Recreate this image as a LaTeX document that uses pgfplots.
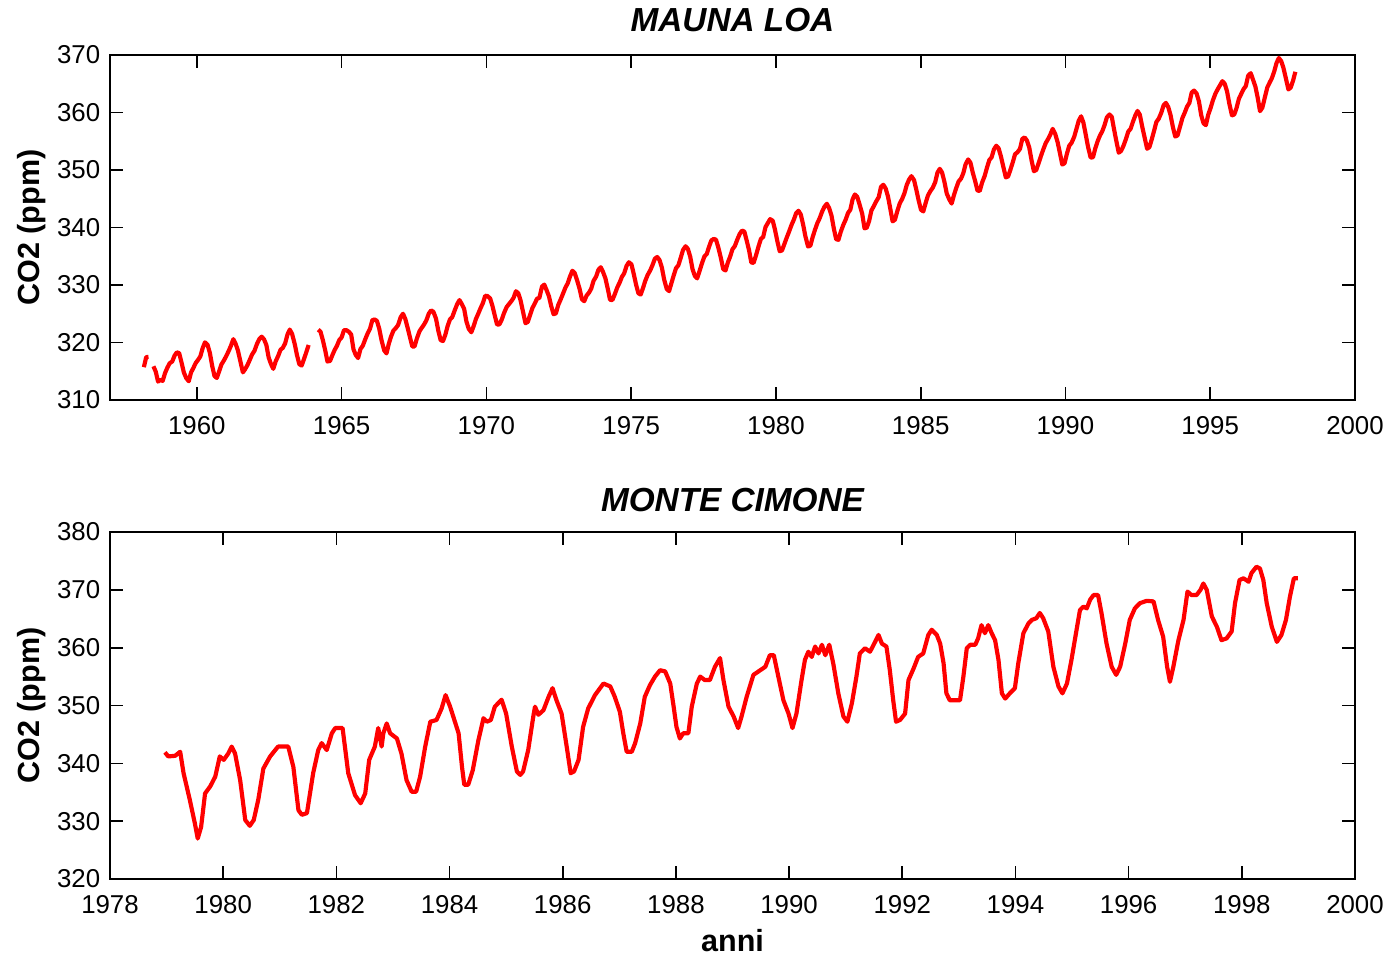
\documentclass[border=0pt]{standalone}
\usepackage{fontspec}
\setmainfont{Liberation Sans}
\usepackage{pgfplots}
\pgfplotsset{compat=1.18}
\begin{document}
\begin{tikzpicture}
\useasboundingbox (0,0) rectangle (498.24pt,343.44pt);
\pgfplotsset{
 co2/.style={
  scale only axis, width=448.2pt, anchor=south west,
  tick align=inside, tick pos=both, major tick length=4.7pt,
  axis line style={line width=0.7pt},
  every tick/.style={black,line width=0.6pt},
  tick label style={font=\fontsize{9.3}{10}\selectfont},
  /pgf/number format/assume math mode=true,
  /pgf/number format/1000 sep={},
  xticklabel style={yshift=-2.5pt},
  ylabel={CO2 (ppm)},
  ylabel style={at={(axis description cs:0,0.5)},anchor=center,yshift=28.4pt,font=\fontsize{11}{13}\selectfont\bfseries},
  title style={font=\fontsize{12}{14}\selectfont\bfseries\itshape, at={(0.5,1)}, anchor=base},
  unbounded coords=jump,
 },
 co2line/.style={red, line width=1.5pt, line join=round, mark=none},
}
\begin{axis}[co2, at={(39.6pt,199.44pt)}, height=124.2pt,
  xmin=1957, xmax=2000, ymin=310, ymax=370,
  xtick={1960,1965,...,2000}, ytick={310,320,...,370},
  title={MAUNA LOA}, title style={yshift=2.6pt}]
\addplot[co2line] coordinates {
(1958.17,315.71)(1958.25,317.45)(1958.33,317.50)(1958.41,nan)(1958.50,315.86)(1958.58,314.93)(1958.66,313.20)(1958.74,313.50)(1958.82,313.33)(1958.90,314.67)
(1958.98,315.62)(1959.06,316.38)(1959.15,316.71)(1959.23,317.72)(1959.31,318.29)(1959.39,318.15)(1959.47,316.54)(1959.55,314.80)(1959.63,313.84)(1959.72,313.26)(1959.80,314.80)(1959.88,315.58)
(1959.96,316.43)(1960.04,316.97)(1960.12,317.58)(1960.20,319.02)(1960.28,320.03)(1960.37,319.59)(1960.45,318.18)(1960.53,315.91)(1960.61,314.16)(1960.69,313.83)(1960.77,315.00)(1960.85,316.19)
(1960.94,316.93)(1961.02,317.70)(1961.10,318.54)(1961.18,319.48)(1961.26,320.58)(1961.34,319.77)(1961.42,318.57)(1961.50,316.79)(1961.59,314.80)(1961.67,315.38)(1961.75,316.10)(1961.83,317.01)
(1961.91,317.94)(1961.99,318.56)(1962.07,319.68)(1962.16,320.63)(1962.24,321.01)(1962.32,320.55)(1962.40,319.58)(1962.48,317.40)(1962.56,316.26)(1962.64,315.42)(1962.72,316.69)(1962.81,317.69)
(1962.89,318.74)(1962.97,319.08)(1963.05,319.86)(1963.13,321.39)(1963.21,322.25)(1963.29,321.47)(1963.38,319.74)(1963.46,317.77)(1963.54,316.21)(1963.62,315.99)(1963.70,317.12)(1963.78,318.31)
(1963.86,319.57)(1963.94,nan)(1964.19,322.23)(1964.27,321.89)(1964.35,320.44)(1964.43,318.70)(1964.51,316.70)(1964.60,316.79)(1964.68,317.79)(1964.76,318.71)
(1964.84,319.44)(1964.92,320.44)(1965.00,320.89)(1965.08,322.13)(1965.16,322.16)(1965.25,321.87)(1965.33,321.39)(1965.41,318.81)(1965.49,317.81)(1965.57,317.30)(1965.65,318.87)(1965.73,319.42)
(1965.82,320.62)(1965.90,321.59)(1965.98,322.39)(1966.06,323.87)(1966.14,324.01)(1966.22,323.75)(1966.30,322.39)(1966.38,320.37)(1966.47,318.64)(1966.55,318.10)(1966.63,319.79)(1966.71,321.08)
(1966.79,322.07)(1966.87,322.50)(1966.95,323.04)(1967.04,324.42)(1967.12,325.00)(1967.20,324.09)(1967.28,322.55)(1967.36,320.92)(1967.44,319.31)(1967.52,319.31)(1967.60,320.72)(1967.69,321.96)
(1967.77,322.57)(1967.85,323.15)(1967.93,323.89)(1968.01,325.02)(1968.09,325.57)(1968.17,325.36)(1968.26,324.14)(1968.34,322.03)(1968.42,320.41)(1968.50,320.25)(1968.58,321.31)(1968.66,322.84)
(1968.74,324.00)(1968.82,324.42)(1968.91,325.64)(1968.99,326.66)(1969.07,327.38)(1969.15,326.70)(1969.23,325.89)(1969.31,323.67)(1969.39,322.38)(1969.48,321.78)(1969.56,322.85)(1969.64,324.11)
(1969.72,325.03)(1969.80,325.99)(1969.88,326.87)(1969.96,328.13)(1970.04,328.07)(1970.13,327.66)(1970.21,326.35)(1970.29,324.69)(1970.37,323.10)(1970.45,323.16)(1970.53,323.98)(1970.61,325.13)
(1970.70,326.17)(1970.78,326.68)(1970.86,327.18)(1970.94,327.78)(1971.02,328.92)(1971.10,328.57)(1971.18,327.34)(1971.26,325.46)(1971.35,323.36)(1971.43,323.57)(1971.51,324.80)(1971.59,326.01)
(1971.67,326.77)(1971.75,327.63)(1971.83,327.75)(1971.92,329.72)(1972.00,330.07)(1972.08,329.09)(1972.16,328.05)(1972.24,326.32)(1972.32,324.93)(1972.40,325.06)(1972.48,326.50)(1972.57,327.55)
(1972.65,328.54)(1972.73,329.56)(1972.81,330.30)(1972.89,331.50)(1972.97,332.48)(1973.05,332.07)(1973.13,330.87)(1973.22,329.31)(1973.30,327.51)(1973.38,327.18)(1973.46,328.16)(1973.54,328.64)
(1973.62,329.35)(1973.70,330.71)(1973.79,331.48)(1973.87,332.65)(1973.95,333.09)(1974.03,332.25)(1974.11,331.18)(1974.19,329.40)(1974.27,327.44)(1974.35,327.37)(1974.44,328.46)(1974.52,329.58)
(1974.60,330.40)(1974.68,331.41)(1974.76,332.04)(1974.84,333.31)(1974.92,333.96)(1975.01,333.59)(1975.09,331.91)(1975.17,330.06)(1975.25,328.56)(1975.33,328.34)(1975.41,329.49)(1975.49,330.76)
(1975.57,331.75)(1975.66,332.56)(1975.74,333.50)(1975.82,334.58)(1975.90,334.87)(1975.98,334.34)(1976.06,333.05)(1976.14,330.94)(1976.23,329.30)(1976.31,328.94)(1976.39,330.31)(1976.47,331.68)
(1976.55,332.93)(1976.63,333.42)(1976.71,334.70)(1976.79,336.07)(1976.88,336.74)(1976.96,336.27)(1977.04,334.93)(1977.12,332.75)(1977.20,331.58)(1977.28,331.16)(1977.36,332.40)(1977.45,333.85)
(1977.53,334.97)(1977.61,335.39)(1977.69,336.64)(1977.77,337.76)(1977.85,338.01)(1977.93,337.89)(1978.01,336.54)(1978.10,334.68)(1978.18,332.76)(1978.26,332.54)(1978.34,333.92)(1978.42,334.95)
(1978.50,336.23)(1978.58,336.76)(1978.67,337.96)(1978.75,338.89)(1978.83,339.47)(1978.91,339.29)(1978.99,337.73)(1979.07,336.09)(1979.15,333.91)(1979.23,333.86)(1979.32,335.29)(1979.40,336.73)
(1979.48,338.01)(1979.56,338.36)(1979.64,340.08)(1979.72,340.77)(1979.80,341.46)(1979.89,341.17)(1979.97,339.56)(1980.05,337.60)(1980.13,335.88)(1980.21,336.01)(1980.29,337.10)(1980.37,338.21)
(1980.45,339.23)(1980.54,340.47)(1980.62,341.38)(1980.70,342.51)(1980.78,342.91)(1980.86,342.25)(1980.94,340.49)(1981.02,338.43)(1981.11,336.69)(1981.19,336.85)(1981.27,338.36)(1981.35,339.61)
(1981.43,340.75)(1981.51,341.61)(1981.59,342.70)(1981.67,343.56)(1981.76,344.13)(1981.84,343.35)(1981.92,342.06)(1982.00,339.82)(1982.08,337.97)(1982.16,337.86)(1982.24,339.26)(1982.33,340.49)
(1982.41,341.38)(1982.49,342.52)(1982.57,343.10)(1982.65,344.94)(1982.73,345.75)(1982.81,345.32)(1982.89,343.99)(1982.98,342.39)(1983.06,339.86)(1983.14,339.99)(1983.22,341.16)(1983.30,342.99)
(1983.38,343.70)(1983.46,344.51)(1983.55,345.28)(1983.63,347.08)(1983.71,347.43)(1983.79,346.79)(1983.87,345.40)(1983.95,343.28)(1984.03,341.07)(1984.11,341.35)(1984.20,342.98)(1984.28,344.22)
(1984.36,344.97)(1984.44,345.99)(1984.52,347.42)(1984.60,348.35)(1984.68,348.93)(1984.77,348.25)(1984.85,346.56)(1984.93,344.69)(1985.01,343.09)(1985.09,342.80)(1985.17,344.24)(1985.25,345.56)
(1985.33,346.29)(1985.42,346.96)(1985.50,347.86)(1985.58,349.55)(1985.66,350.21)(1985.74,349.54)(1985.82,347.94)(1985.90,345.91)(1985.99,344.86)(1986.07,344.17)(1986.15,345.66)(1986.23,346.90)
(1986.31,348.02)(1986.39,348.47)(1986.47,349.42)(1986.55,350.99)(1986.64,351.84)(1986.72,351.25)(1986.80,349.52)(1986.88,348.10)(1986.96,346.44)(1987.04,346.36)(1987.12,347.81)(1987.21,348.96)
(1987.29,350.43)(1987.37,351.72)(1987.45,352.22)(1987.53,353.59)(1987.61,354.22)(1987.69,353.79)(1987.77,352.39)(1987.86,350.44)(1987.94,348.72)(1988.02,348.88)(1988.10,350.07)(1988.18,351.34)
(1988.26,352.76)(1988.34,353.07)(1988.43,353.68)(1988.51,355.42)(1988.59,355.67)(1988.67,355.13)(1988.75,353.90)(1988.83,351.67)(1988.91,349.80)(1988.99,349.99)(1989.08,351.30)(1989.16,352.53)
(1989.24,353.66)(1989.32,354.70)(1989.40,355.39)(1989.48,356.20)(1989.56,357.16)(1989.65,356.22)(1989.73,354.82)(1989.81,352.91)(1989.89,350.96)(1989.97,351.18)(1990.05,352.83)(1990.13,354.21)
(1990.21,354.72)(1990.30,355.75)(1990.38,357.16)(1990.46,358.60)(1990.54,359.34)(1990.62,358.24)(1990.70,356.17)(1990.78,354.03)(1990.87,352.16)(1990.95,352.21)(1991.03,353.75)(1991.11,354.99)
(1991.19,355.98)(1991.27,356.72)(1991.35,357.81)(1991.43,359.15)(1991.52,359.66)(1991.60,359.25)(1991.68,357.03)(1991.76,355.00)(1991.84,353.01)(1991.92,353.31)(1992.00,354.16)(1992.09,355.40)
(1992.17,356.70)(1992.25,357.16)(1992.33,358.38)(1992.41,359.46)(1992.49,360.28)(1992.57,359.60)(1992.65,357.57)(1992.74,355.52)(1992.82,353.70)(1992.90,353.98)(1992.98,355.33)(1993.06,356.80)
(1993.14,358.36)(1993.22,358.91)(1993.31,359.97)(1993.39,361.26)(1993.47,361.68)(1993.55,360.95)(1993.63,359.55)(1993.71,357.49)(1993.79,355.84)(1993.87,356.00)(1993.96,357.59)(1994.04,359.05)
(1994.12,359.98)(1994.20,361.03)(1994.28,361.66)(1994.36,363.48)(1994.44,363.82)(1994.53,363.30)(1994.61,361.94)(1994.69,359.50)(1994.77,358.11)(1994.85,357.80)(1994.93,359.61)(1995.01,360.74)
(1995.09,362.09)(1995.18,363.29)(1995.26,364.06)(1995.34,364.76)(1995.42,365.45)(1995.50,365.01)(1995.58,363.70)(1995.66,361.54)(1995.75,359.51)(1995.83,359.65)(1995.91,360.80)(1995.99,362.38)
(1996.07,363.23)(1996.15,364.06)(1996.23,364.61)(1996.31,366.40)(1996.40,366.84)(1996.48,365.68)(1996.56,364.52)(1996.64,362.57)(1996.72,360.24)(1996.80,360.83)(1996.88,362.49)(1996.97,364.34)
(1997.05,365.18)(1997.13,365.98)(1997.21,367.13)(1997.29,368.61)(1997.37,369.49)(1997.45,368.95)(1997.53,367.74)(1997.62,365.79)(1997.70,364.01)(1997.78,364.35)(1997.86,365.52)(1997.94,367.08)
};
\end{axis}
\begin{axis}[co2, at={(39.6pt,27pt)}, height=124.92pt,
  xmin=1978, xmax=2000, ymin=320, ymax=380,
  xtick={1978,1980,...,2000}, ytick={320,330,...,380},
  title={MONTE CIMONE}, title style={yshift=1.5pt},
  xlabel={anni},
  xlabel style={at={(axis description cs:0.5,0)},anchor=center,yshift=-22pt,font=\fontsize{11}{13}\selectfont\bfseries}]
\addplot[co2line] coordinates {
(1978.97,341.9)(1979.03,341.2)(1979.15,341.3)(1979.24,342.0)(1979.30,338.3)(1979.41,333.7)(1979.50,329.6)(1979.55,327.0)(1979.61,329.0)(1979.68,334.8)(1979.77,336.0)(1979.86,337.7)(1979.94,341.2)
(1980.01,340.6)(1980.09,341.7)(1980.15,342.9)(1980.21,341.7)(1980.30,337.1)(1980.39,330.2)(1980.47,329.2)(1980.54,330.2)(1980.62,333.7)(1980.71,339.1)(1980.83,341.2)(1980.97,342.9)
(1981.15,342.9)(1981.24,339.4)(1981.33,331.9)(1981.39,331.1)(1981.48,331.4)(1981.59,338.3)(1981.68,342.3)(1981.74,343.5)(1981.83,342.3)(1981.92,345.2)(1981.98,346.1)
(1982.11,346.1)(1982.21,338.3)(1982.33,334.5)(1982.43,333.1)(1982.51,334.8)(1982.58,340.6)(1982.68,342.9)(1982.74,346.1)(1982.80,342.9)(1982.83,345.2)(1982.89,346.9)(1982.95,345.2)
(1983.07,344.3)(1983.15,341.7)(1983.24,337.1)(1983.33,335.1)(1983.41,335.1)(1983.48,337.7)(1983.57,342.9)(1983.66,347.2)(1983.77,347.5)(1983.86,349.5)(1983.93,351.8)
(1984.01,349.8)(1984.16,345.2)(1984.22,339.4)(1984.26,336.3)(1984.33,336.3)(1984.41,338.8)(1984.51,344.0)(1984.60,347.8)(1984.66,347.2)(1984.73,347.5)(1984.80,349.8)(1984.92,351.0)
(1985.00,348.6)(1985.10,342.9)(1985.19,338.6)(1985.25,338.0)(1985.30,338.6)(1985.39,342.3)(1985.48,348.1)(1985.51,349.8)(1985.57,348.4)(1985.66,349.2)(1985.75,351.5)(1985.82,353.0)(1985.89,350.9)(1985.98,348.6)
(1986.07,342.9)(1986.14,338.3)(1986.20,338.6)(1986.28,340.6)(1986.36,346.3)(1986.45,349.5)(1986.57,351.8)(1986.72,353.8)(1986.84,353.3)(1986.92,351.5)
(1987.01,348.9)(1987.07,345.2)(1987.13,342.0)(1987.22,342.0)(1987.28,343.5)(1987.37,346.9)(1987.45,351.5)(1987.54,353.5)(1987.63,355.0)(1987.72,356.1)(1987.81,355.9)(1987.90,353.8)(1987.96,349.8)
(1988.01,346.3)(1988.07,344.3)(1988.13,345.2)(1988.22,345.2)(1988.28,349.8)(1988.37,353.8)(1988.43,355.0)(1988.51,354.4)(1988.60,354.4)(1988.69,356.7)(1988.78,358.2)(1988.84,354.4)(1988.93,349.8)
(1989.02,348.1)(1989.10,346.1)(1989.16,348.1)(1989.25,351.5)(1989.37,355.3)(1989.49,356.1)(1989.58,356.7)(1989.66,358.7)(1989.73,358.7)(1989.81,355.0)(1989.90,350.9)(1989.99,348.6)
(1990.06,346.1)(1990.13,348.6)(1990.22,354.4)(1990.28,357.9)(1990.34,359.3)(1990.40,358.4)(1990.46,360.2)(1990.52,359.0)(1990.58,360.5)(1990.64,358.7)(1990.71,360.5)(1990.78,357.3)(1990.87,352.1)(1990.96,348.1)
(1991.03,347.2)(1991.11,350.4)(1991.19,355.0)(1991.25,359.0)(1991.34,359.9)(1991.43,359.3)(1991.52,361.0)(1991.58,362.2)(1991.64,360.7)(1991.72,360.2)(1991.78,356.1)(1991.84,350.9)(1991.89,347.2)(1991.96,347.5)
(1992.05,348.6)(1992.11,354.4)(1992.20,356.4)(1992.28,358.4)(1992.37,359.0)(1992.46,362.2)(1992.52,363.1)(1992.61,362.2)(1992.67,360.7)(1992.73,357.3)(1992.78,352.1)(1992.84,350.9)(1992.93,350.9)
(1993.02,350.9)(1993.08,355.0)(1993.14,359.9)(1993.20,360.5)(1993.29,360.5)(1993.34,361.6)(1993.40,363.9)(1993.46,362.5)(1993.52,363.9)(1993.58,362.5)(1993.64,361.3)(1993.70,357.9)(1993.76,352.1)(1993.82,351.2)(1993.90,352.1)(1993.99,353.0)
(1994.05,357.3)(1994.14,362.5)(1994.23,364.2)(1994.29,364.8)(1994.37,365.1)(1994.43,366.0)(1994.49,365.1)(1994.58,362.8)(1994.67,356.7)(1994.76,353.3)(1994.83,352.1)(1994.91,353.8)(1994.99,357.9)
(1995.08,363.1)(1995.14,366.5)(1995.20,367.1)(1995.26,366.8)(1995.32,368.3)(1995.38,369.1)(1995.46,369.1)(1995.52,366.0)(1995.61,360.7)(1995.70,356.7)(1995.78,355.3)(1995.85,356.7)(1995.94,360.7)
(1996.02,364.8)(1996.11,366.8)(1996.20,367.7)(1996.32,368.1)(1996.44,368.0)(1996.52,364.8)(1996.61,361.9)(1996.68,356.7)(1996.73,354.1)(1996.79,356.7)(1996.88,361.3)(1996.97,364.8)
(1997.04,369.7)(1997.11,369.1)(1997.20,369.1)(1997.27,370.0)(1997.32,371.1)(1997.38,370.0)(1997.47,365.4)(1997.56,363.6)(1997.64,361.3)(1997.73,361.6)(1997.82,362.8)(1997.88,367.7)(1997.96,371.7)
(1998.03,372.0)(1998.12,371.4)(1998.17,372.9)(1998.26,374.0)(1998.32,373.7)(1998.38,371.7)(1998.44,367.7)(1998.53,363.6)(1998.62,361.0)(1998.70,362.2)(1998.78,364.8)(1998.85,368.8)(1998.92,372.0)(1998.99,372.0)
};
\end{axis}
\end{tikzpicture}
\end{document}
